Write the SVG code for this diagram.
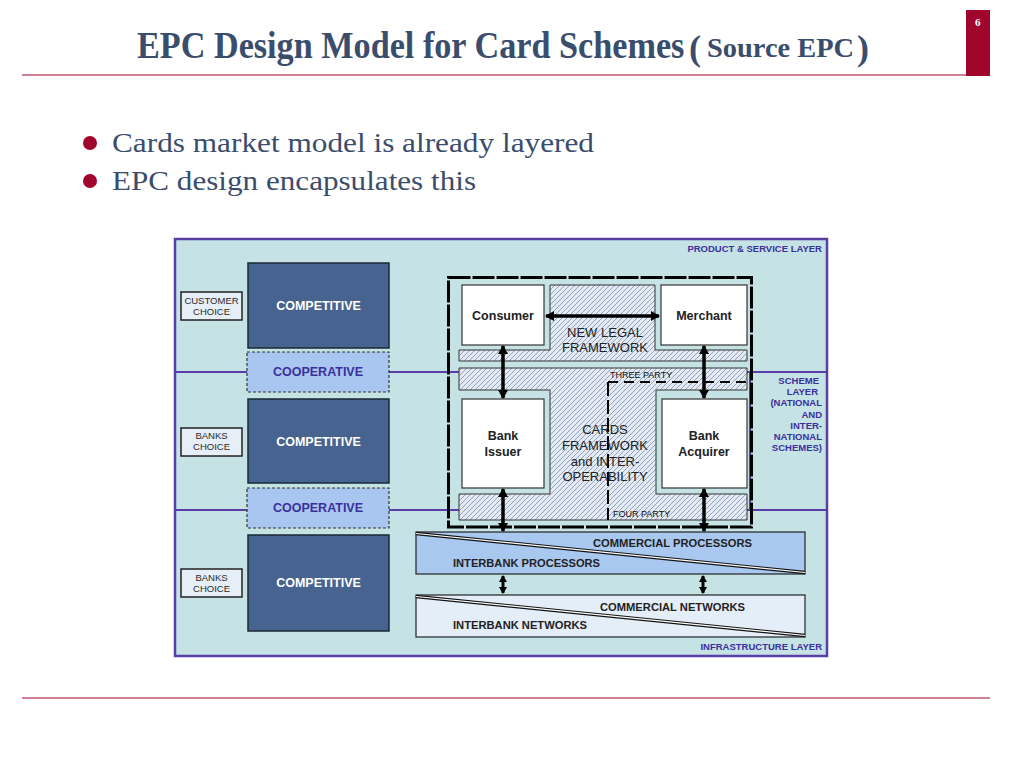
<svg xmlns="http://www.w3.org/2000/svg" width="1024" height="768" viewBox="0 0 1024 768">
<style>
.title{font-family:"Liberation Serif","Times New Roman",serif;font-weight:bold;fill:#3b4d6d}
.bullet{font-family:"Liberation Serif","Times New Roman",serif;font-size:28px;fill:#3b4d6d}
.layer{font-family:"Liberation Sans",Arial,sans-serif;font-weight:bold;font-size:9.5px;fill:#3b2f9e;text-anchor:end}
.choice{fill:#e6eef8;stroke:#222;stroke-width:1.5}
.choicet{font-family:"Liberation Sans",Arial,sans-serif;font-size:9.5px;fill:#2a2a2a;text-anchor:middle}
.comp{fill:#47638f;stroke:#1b2838;stroke-width:1.5}
.compt{font-family:"Liberation Sans",Arial,sans-serif;font-weight:bold;font-size:12.5px;fill:#ffffff;text-anchor:middle}
.coop{fill:#a8c6ef;stroke:#333;stroke-width:1.2;stroke-dasharray:3 2}
.coopt{font-family:"Liberation Sans",Arial,sans-serif;font-weight:bold;font-size:12.5px;fill:#3b2f9e;text-anchor:middle}
.wbox{fill:#ffffff;stroke:#333;stroke-width:1.2}
.wt{font-family:"Liberation Sans",Arial,sans-serif;font-weight:bold;font-size:12.5px;fill:#222;text-anchor:middle}
.ft{font-family:"Liberation Sans",Arial,sans-serif;font-size:13px;fill:#222;text-anchor:middle}
.hatch{fill:url(#hatch);stroke:#333;stroke-width:1}
.pt{font-family:"Liberation Sans",Arial,sans-serif;font-weight:bold;font-size:10.5px;fill:#222}
.small{font-family:"Liberation Sans",Arial,sans-serif;font-size:9px;fill:#111}
.purple{stroke:#5a3ea8;stroke-width:2;fill:none}
.arrow{stroke:#000;stroke-width:3.5;fill:none;marker-start:url(#ah);marker-end:url(#ah)}
.sarrow{stroke:#000;stroke-width:3;fill:none;marker-start:url(#ahs);marker-end:url(#ahs)}
</style>
<defs>
<pattern id="hatch" patternUnits="userSpaceOnUse" width="5" height="5">
<rect width="5" height="5" fill="#e3eaf1"/>
<path d="M-1,1 l2,-2 M0,5 l5,-5 M4,6 l2,-2" stroke="#91a1bf" stroke-width="1"/>
</pattern>
<marker id="ah" markerUnits="userSpaceOnUse" markerWidth="9" markerHeight="10" refX="8" refY="5" orient="auto-start-reverse">
<path d="M0,0 L9,5 L0,10 Z" fill="#000"/>
</marker>
<marker id="ahs" markerUnits="userSpaceOnUse" markerWidth="7" markerHeight="8" refX="6" refY="4" orient="auto-start-reverse">
<path d="M0,0 L7,4 L0,8 Z" fill="#000"/>
</marker>
</defs>

<rect width="1024" height="768" fill="#ffffff"/>

<g id="header">
<text class="title" transform="translate(137,58) scale(1,1.13)" x="0" y="0" font-size="34.2">EPC Design Model for Card Schemes</text>
<text class="title" x="689" y="60" font-size="36" font-weight="normal">(</text>
<text class="title" x="707" y="57" font-size="28" textLength="147" lengthAdjust="spacingAndGlyphs">Source EPC</text>
<text class="title" x="857" y="60" font-size="36" font-weight="normal">)</text>
<line x1="22" y1="75" x2="966" y2="75" stroke="#a0062b" stroke-width="1.2"/>
<rect x="966" y="10" width="24" height="66" fill="#a0062b"/>
<text x="975" y="26" font-family="Liberation Serif,serif" font-weight="bold" font-size="11" fill="#ffffff">6</text>
</g>

<g id="bullets">
<circle cx="90" cy="143" r="7" fill="#a0062b"/>
<text class="bullet" x="112" y="152" textLength="482" lengthAdjust="spacingAndGlyphs">Cards market model is already layered</text>
<circle cx="90" cy="181" r="7" fill="#a0062b"/>
<text class="bullet" x="112" y="190" textLength="364" lengthAdjust="spacingAndGlyphs">EPC design encapsulates this</text>
</g>

<g id="frame">
<rect x="175" y="239" width="652" height="417" fill="#c5e3e5" stroke="#5a3ea8" stroke-width="2.5"/>
<line class="purple" x1="175" y1="372" x2="827" y2="372"/>
<line class="purple" x1="175" y1="510" x2="827" y2="510"/>
<line class="purple" x1="750" y1="372" x2="750" y2="510"/>
<text class="layer" x="822" y="252">PRODUCT &amp; SERVICE LAYER</text>
<text class="layer" x="819" y="384">SCHEME</text>
<text class="layer" x="818" y="395">LAYER</text>
<text class="layer" x="822" y="406">(NATIONAL</text>
<text class="layer" x="822" y="418">AND</text>
<text class="layer" x="822" y="429">INTER-</text>
<text class="layer" x="822" y="440">NATIONAL</text>
<text class="layer" x="822" y="451">SCHEMES)</text>
<text class="layer" x="822" y="650">INFRASTRUCTURE LAYER</text>
</g>

<g id="customer-choice">
<rect class="choice" x="181" y="292" width="61" height="28"/>
<text class="choicet" x="211.5" y="304">CUSTOMER</text>
<text class="choicet" x="211.5" y="315">CHOICE</text>
</g>
<g id="banks-choice-1">
<rect class="choice" x="181" y="428" width="61" height="28"/>
<text class="choicet" x="211.5" y="439">BANKS</text>
<text class="choicet" x="211.5" y="450">CHOICE</text>
</g>
<g id="banks-choice-2">
<rect class="choice" x="181" y="569" width="61" height="28"/>
<text class="choicet" x="211.5" y="581">BANKS</text>
<text class="choicet" x="211.5" y="592">CHOICE</text>
</g>
<g id="competitive-1">
<rect class="comp" x="248" y="263" width="141" height="85"/>
<text class="compt" x="318.5" y="310">COMPETITIVE</text>
</g>
<g id="cooperative-1">
<rect class="coop" x="247" y="352" width="142" height="40"/>
<text class="coopt" x="318" y="376">COOPERATIVE</text>
</g>
<g id="competitive-2">
<rect class="comp" x="248" y="399" width="141" height="84"/>
<text class="compt" x="318.5" y="446">COMPETITIVE</text>
</g>
<g id="cooperative-2">
<rect class="coop" x="247" y="488" width="142" height="40"/>
<text class="coopt" x="318" y="512">COOPERATIVE</text>
</g>
<g id="competitive-3">
<rect class="comp" x="248" y="535" width="141" height="96"/>
<text class="compt" x="318.5" y="587">COMPETITIVE</text>
</g>

<g id="scheme-box">
<rect x="448.5" y="277.5" width="303" height="249.5" fill="none" stroke="#000" stroke-width="3" stroke-dasharray="22 2"/>
</g>
<g id="new-legal-framework">
<path class="hatch" d="M550,285 H655 V350 H747 V361 H459 V350 H550 Z"/>
<text class="ft" x="605" y="337">NEW LEGAL</text>
<text class="ft" x="605" y="352">FRAMEWORK</text>
</g>
<g id="cards-framework">
<path class="hatch" d="M459,368 H747 V390 H656 V494 H747 V520 H459 V494 H550 V390 H459 Z"/>
<path d="M608,382 H747" stroke="#000" stroke-width="2" stroke-dasharray="10 6" fill="none"/>
<path d="M608,382 V520" stroke="#000" stroke-width="2" stroke-dasharray="14 4" fill="none"/>
<text class="small" x="610" y="378">THREE PARTY</text>
<text class="small" x="613" y="517">FOUR PARTY</text>
<text class="ft" x="605" y="434">CARDS</text>
<text class="ft" x="605" y="450">FRAMEWORK</text>
<text class="ft" x="605" y="466">and INTER-</text>
<text class="ft" x="605" y="481">OPERABILITY</text>
</g>
<g id="consumer">
<rect class="wbox" x="462" y="285" width="82" height="60"/>
<text class="wt" x="503" y="320">Consumer</text>
</g>
<g id="merchant">
<rect class="wbox" x="661" y="285" width="86" height="60"/>
<text class="wt" x="704" y="320">Merchant</text>
</g>
<g id="bank-issuer">
<rect class="wbox" x="462" y="399" width="82" height="89"/>
<text class="wt" x="503" y="440">Bank</text>
<text class="wt" x="503" y="456">Issuer</text>
</g>
<g id="bank-acquirer">
<rect class="wbox" x="662" y="399" width="85" height="89"/>
<text class="wt" x="704" y="440">Bank</text>
<text class="wt" x="704" y="456">Acquirer</text>
</g>

<g id="processors">
<rect x="416" y="532" width="389" height="42" fill="#a9c8f0" stroke="#222" stroke-width="1.2"/>
<line x1="416" y1="533.5" x2="805" y2="572.5" stroke="#111" stroke-width="3.5"/>
<line x1="416" y1="533.5" x2="805" y2="572.5" stroke="#ffffff" stroke-width="1.2"/>
<text class="pt" x="593" y="547" textLength="159" lengthAdjust="spacingAndGlyphs">COMMERCIAL PROCESSORS</text>
<text class="pt" x="453" y="567" textLength="147" lengthAdjust="spacingAndGlyphs">INTERBANK PROCESSORS</text>
</g>
<g id="networks">
<rect x="416" y="595" width="389" height="42" fill="#e4eef8" stroke="#222" stroke-width="1.2"/>
<line x1="416" y1="596.5" x2="805" y2="635.5" stroke="#111" stroke-width="3.5"/>
<line x1="416" y1="596.5" x2="805" y2="635.5" stroke="#ffffff" stroke-width="1.2"/>
<text class="pt" x="600" y="611" textLength="145" lengthAdjust="spacingAndGlyphs">COMMERCIAL NETWORKS</text>
<text class="pt" x="453" y="629" textLength="134" lengthAdjust="spacingAndGlyphs">INTERBANK NETWORKS</text>
</g>

<g id="connectors">
<line class="arrow" x1="546" y1="316" x2="659" y2="316"/>
<line class="arrow" x1="503" y1="346" x2="503" y2="398"/>
<line class="arrow" x1="704" y1="346" x2="704" y2="398"/>
<line class="arrow" x1="503" y1="489" x2="503" y2="531"/>
<line class="arrow" x1="704" y1="489" x2="704" y2="531"/>
<line class="sarrow" x1="503" y1="576" x2="503" y2="593"/>
<line class="sarrow" x1="703" y1="576" x2="703" y2="593"/>
</g>

<line x1="22" y1="698" x2="990" y2="698" stroke="#a0062b" stroke-width="1.2"/>
</svg>
